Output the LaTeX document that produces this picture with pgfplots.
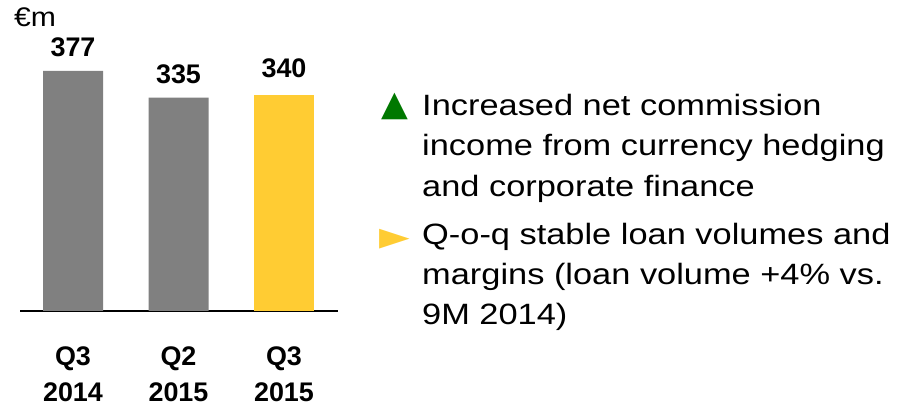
\documentclass[border=0pt]{standalone}
\usepackage{fontspec}
\setmainfont{Liberation Sans}
\newfontfamily\symfont{DejaVu Sans}
\usepackage{graphicx}
\usepackage{pgfplots}
\pgfplotsset{compat=1.18}
\definecolor{bargrey}{HTML}{808080}
\definecolor{baryellow}{HTML}{FFCC33}
\definecolor{bulgreen}{HTML}{007800}
\newcommand{\rt}[1]{\scalebox{1.17}[1]{\fontsize{29.5}{40}\selectfont #1}}
\begin{document}
\begin{tikzpicture}
\useasboundingbox (0,0) rectangle (901bp,406bp);
\begin{axis}[
  at={(20bp,95bp)}, anchor=south west,
  scale only axis, width=318bp, height=240bp,
  xmin=-0.5024, xmax=2.5118, ymin=0, ymax=377,
  enlargelimits=false, clip=false,
  /pgf/number format/assume math mode=true,
  axis x line*=bottom, hide y axis,
  x axis line style={line width=1.6bp, black},
  xtick={0,1,2},
  xticklabels={{Q3\\2014},{Q2\\2015},{Q3\\2015}},
  major tick length=0pt,
  xticklabel style={align=center, anchor=north, inner sep=0pt, yshift=-36bp,
    font=\fontsize{27}{36}\selectfont\bfseries},
  ybar, bar width=60bp,
  nodes near coords={\pgfmathprintnumber[assume math mode=true]{\pgfplotspointmeta}},
  every node near coord/.append style={font=\fontsize{27}{30}\selectfont\bfseries, inner sep=0pt, anchor=south, black},
]
\addplot[fill=bargrey, draw=none, bar shift=0pt, every node near coord/.append style={yshift=14bp}] coordinates {(0,377) (1,335)};
\addplot[fill=baryellow, draw=none, bar shift=0pt, every node near coord/.append style={yshift=17bp}] coordinates {(2,340)};
\end{axis}
\node[anchor=base west, inner sep=0pt] at (14bp,379bp) {\scalebox{1.12}[1]{\fontsize{27}{30}\selectfont €m}};
\node[anchor=base west, inner sep=0pt, text=bulgreen] at (381bp,290bp) {\symfont\fontsize{35}{40}\selectfont ▲};
\node[anchor=base west, inner sep=0pt, text=baryellow] at (379bp,156bp) {\symfont\fontsize{40}{40}\selectfont ►};
\node[anchor=base west, inner sep=0pt] at (422bp,290bp) {\rt{Increased net commission}};
\node[anchor=base west, inner sep=0pt] at (422bp,250bp) {\rt{income from currency hedging}};
\node[anchor=base west, inner sep=0pt] at (422bp,209bp) {\rt{and corporate finance}};
\node[anchor=base west, inner sep=0pt] at (422bp,161bp) {\rt{Q-o-q stable loan volumes and}};
\node[anchor=base west, inner sep=0pt] at (422bp,121bp) {\rt{margins (loan volume +4\% vs.}};
\node[anchor=base west, inner sep=0pt] at (422bp,81bp) {\rt{9M 2014)}};
\end{tikzpicture}
\end{document}
